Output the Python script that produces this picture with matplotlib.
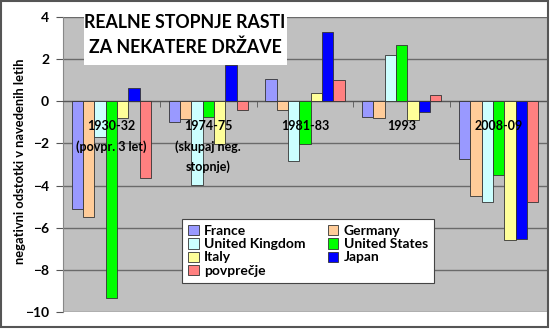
import numpy as np
import matplotlib.pyplot as plt
from matplotlib.patches import Rectangle

periods = ['1930-32\n(povpr. 3 let)', '1974-75\n(skupaj neg.\nstopnje)',
           '1981-83', '1993', '2008-09']
countries = ['France', 'Germany', 'United Kingdom', 'United States',
             'Italy', 'Japan', 'povprečje']
france = [-5.1, -1.0, 1.05, -0.75, -2.75]
germany = [-5.5, -0.85, -0.4, -0.8, -4.5]
uk = [-1.7, -3.95, -2.85, 2.2, -4.8]
us = [-9.35, -0.75, -2.05, 2.65, -3.5]
italy = [-0.8, -2.05, 0.4, -0.9, -6.6]
japan = [0.65, 1.7, 3.3, -0.5, -6.55]
avg = [-3.65, -0.4, 1.0, 0.3, -4.8]
series = [france, germany, uk, us, italy, japan, avg]
colors = ['#9999FF', '#FFCC99', '#CCFFFF', '#00FF00', '#FFFF99', '#0000FF', '#FF8080']

plt.rcParams['font.family'] = ['Lato', 'DejaVu Sans']
plt.rcParams['font.weight'] = 'bold'

fig = plt.figure(figsize=(5.5, 3.3), dpi=100)
ax = fig.add_axes([63/550, 1 - 312/330, (547 - 63)/550, (312 - 17)/330])
ax.set_facecolor('#C0C0C0')

x = np.arange(len(periods))
w = 0.117
bars = []
for i, vals in enumerate(series):
  b = ax.bar(x + (i - 3) * w, vals, w, color=colors[i], edgecolor='#333333',
             linewidth=0.6, zorder=3)
  bars.append(b)

ax.set_xlim(-0.5, len(periods) - 0.5)
ax.set_ylim(-10, 4)
ax.set_yticks(np.arange(-10, 5, 2))
ax.yaxis.grid(True, color='#6a6a6a', linewidth=1.0, zorder=1)
ax.set_axisbelow(True)
ax.tick_params(axis='y', direction='out', length=5, color='#555555',
               labelsize=10, pad=5)
for lab in ax.get_yticklabels():
  lab.set_fontweight('bold')

# category axis sits on zero
ax.spines['bottom'].set_position(('data', 0))
ax.spines['bottom'].set_color('#555555')
ax.spines['top'].set_visible(False)
ax.spines['right'].set_visible(False)
ax.spines['left'].set_color('#888888')
ax.set_xticks([])
ax.set_xticks(np.arange(0.5, len(periods) - 0.5, 1), minor=True)
ax.tick_params(axis='x', which='minor', direction='out', length=4, color='#555555')
ax.tick_params(axis='x', which='major', length=0, labelbottom=False)

for xi, p in zip(x, periods):
  ax.text(xi, -0.9, p, ha='center', va='top', fontsize=9, fontweight='bold',
          linespacing=1.75, zorder=5)

ax.set_ylabel('negativni odstotki v navedenih letih', fontsize=9.3,
              fontweight='bold')
ax.yaxis.set_label_coords(-0.077, 0.51)

# title box
fig.patches.append(Rectangle((84/550, 1 - 65/330), (287 - 84)/550, 58/330,
                             transform=fig.transFigure, facecolor='white',
                             edgecolor='none', zorder=10))
fig.text(185/550, 1 - 35/330, 'REALNE STOPNJE RASTI\nZA NEKATERE DRŽAVE',
         ha='center', va='center', fontsize=12.8, fontweight='bold',
         linespacing=1.45, zorder=11)

order = [0, 2, 4, 6, 1, 3, 5]
leg = fig.legend([bars[i] for i in order], [countries[i] for i in order],
                 ncol=2, loc='upper left', bbox_to_anchor=(182/550, 1 - 219/330),
                 bbox_transform=fig.transFigure, borderaxespad=0,
                 prop={'weight': 'bold', 'size': 10},
                 frameon=True, fancybox=False, framealpha=1,
                 edgecolor='#444444', handlelength=0.75, handleheight=0.75,
                 handletextpad=0.4, labelspacing=0.08, columnspacing=1.6,
                 borderpad=0.45)
leg.get_frame().set_linewidth(0.8)

# figure border
fig.patches.append(Rectangle((0.002, 0.01), 0.995, 0.987, transform=fig.transFigure,
                             facecolor='none', edgecolor='#555555', linewidth=1.5))

fig.savefig('out.png', dpi=100)
